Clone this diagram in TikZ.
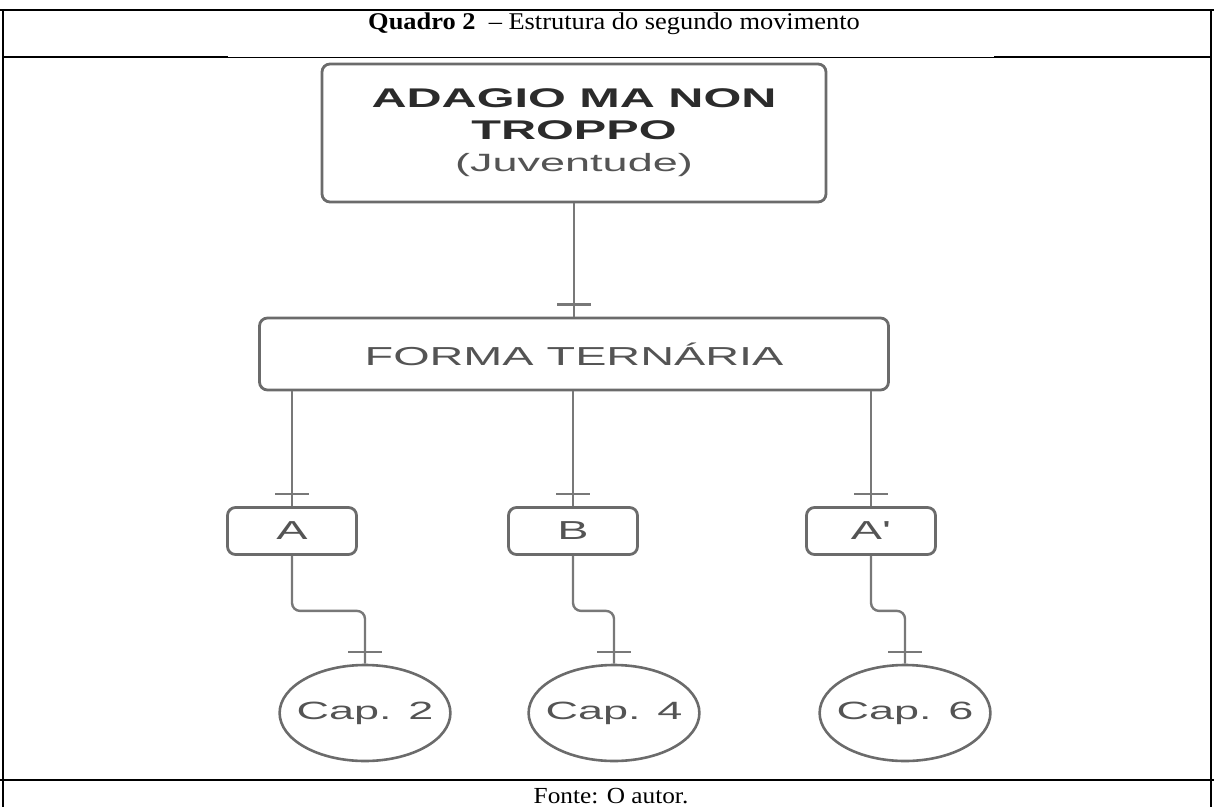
\documentclass[tikz,border=0pt]{standalone}
\usepackage{fontspec}
\setmainfont{Liberation Serif}[FakeStretch=1.1]
\newfontfamily\diagfont{Liberation Sans}[FakeStretch=1.8]
\usetikzlibrary{decorations.markings,shapes.geometric}
\definecolor{boxgray}{rgb}{0.42,0.42,0.42}
\definecolor{linkgray}{rgb}{0.47,0.47,0.47}
\definecolor{textgray}{rgb}{0.33,0.33,0.33}
\definecolor{titledark}{rgb}{0.17,0.17,0.17}
\tikzset{
  caixa/.style={
    rounded corners=4pt,
    draw=boxgray,
    line width=1.4pt,
    fill=white,
    align=center,
    inner sep=0pt,
    text=textgray,
    font=\diagfont\fontsize{13}{16}\selectfont
  },
  parte/.style={
    caixa,
    minimum width=64.5pt,
    minimum height=23.5pt
  },
  capitulo/.style={
    ellipse,
    draw=boxgray,
    line width=1.3pt,
    inner xsep=-4pt,
    inner ysep=0pt,
    minimum width=85pt,
    minimum height=48pt,
    text=textgray,
    font=\diagfont\fontsize{12.5}{15}\selectfont
  },
  link/.style={
    draw=linkgray,
    line width=1.2pt,
    postaction={decorate},
    decoration={markings,
      mark=at position -6pt with {\draw[linkgray, line width=1.1pt] (0,-8.5pt) -- (0,8.5pt);}}
  },
  quadro/.style={
    black,
    line width=1pt
  }
}
\begin{document}
\begin{tikzpicture}[x=0.5pt,y=-0.5pt]
\useasboundingbox (0,0) rectangle (1214,807);
% moldura do quadro
\draw[quadro] (0,10) -- (1214,10);
\draw[quadro, line width=.6pt] (3,10) -- (3,807);
\draw[quadro, line width=.6pt] (1211,10) -- (1211,807);
\draw[quadro] (3,57) -- (228,57);
\draw[quadro] (994,57) -- (1211,57);
\draw[quadro, line width=.5pt] (228,58) -- (994,58);
\draw[quadro, line width=1.4pt] (0,780) -- (1214,780);
\node[font=\fontsize{12}{14}\selectfont, anchor=base] (titulo) at (614,30) {\textbf{Quadro 2}\ \ – Estrutura do segundo movimento};
\node[font=\fontsize{11.5}{13}\selectfont, anchor=base] (fonte) at (611,803) {Fonte: O autor.};
% movimento
\node[caixa, minimum width=252pt, minimum height=69pt, font=\diagfont\fontsize{13.5}{16}\selectfont] (adagio) at (574,133)
  {\textcolor{titledark}{\bfseries ADAGIO MA NON}\\\textcolor{titledark}{\bfseries TROPPO}\\{\fontsize{12.5}{16}\selectfont(Juventude)}};
\node[caixa, minimum width=314.5pt, minimum height=36pt] (forma) at (574,354) {FORMA TERNÁRIA};
% partes
\node[parte] (partA) at (292,531) {A};
\node[parte] (partB) at (573,531) {B};
\node[parte] (partAl) at (871,531) {A'};
% capitulos
\node[capitulo] (cap2) at (365,713) {Cap. 2};
\node[capitulo] (cap4) at (614,713) {Cap. 4};
\node[capitulo] (cap6) at (905,713) {Cap. 6};
% ligacoes
\draw[link] (adagio) -- (forma);
\foreach \p in {partA,partB,partAl}
  \draw[link] (forma.south -| \p) -- (\p);
\draw[link, rounded corners=4pt] (partA.south) -- ++(0,55) -| (cap2.north);
\draw[link, rounded corners=4pt] (partB.south) -- ++(0,55) -| (cap4.north);
\draw[link, rounded corners=4pt] (partAl.south) -- ++(0,55) -| (cap6.north);
\end{tikzpicture}
\end{document}
